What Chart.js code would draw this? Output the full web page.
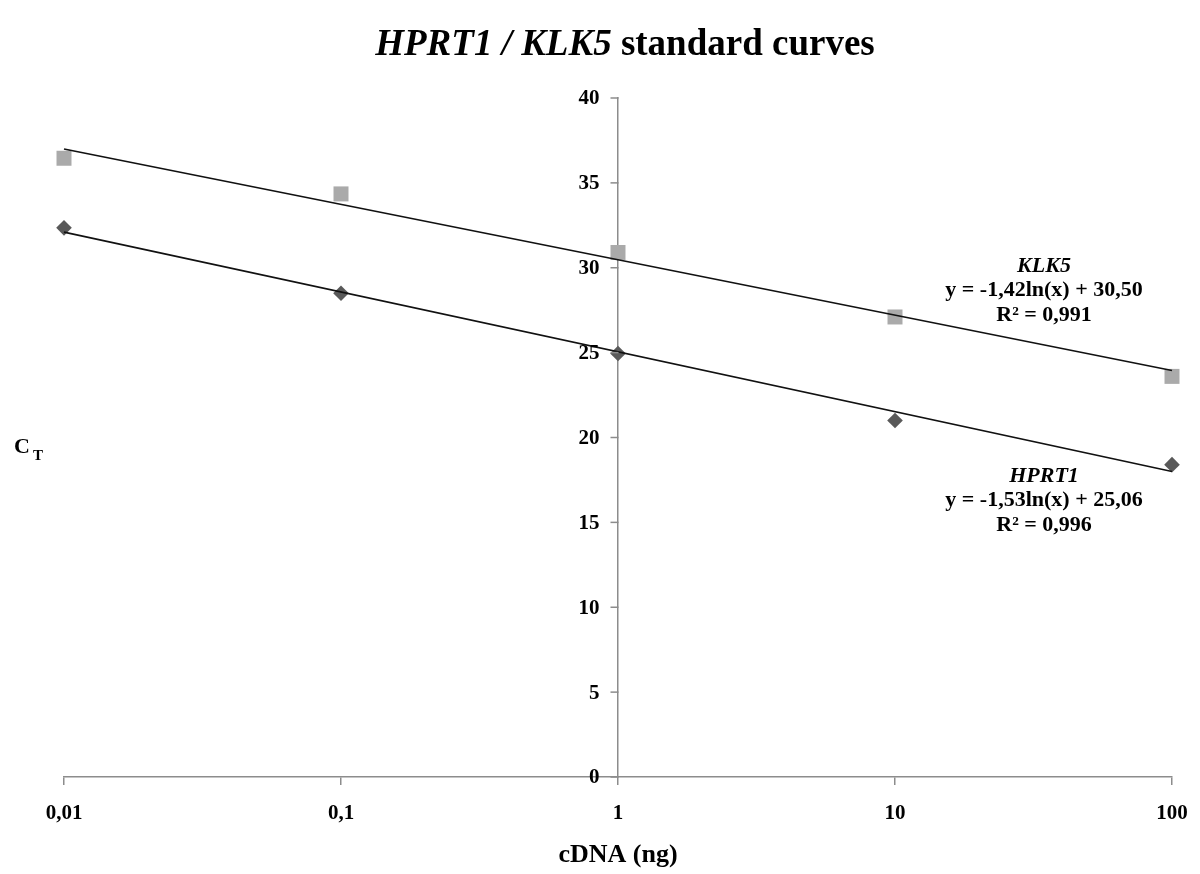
<!DOCTYPE html>
<html>
<head>
<meta charset="utf-8">
<script src="https://cdn.jsdelivr.net/npm/chart.js@4"></script>
<style>
  html, body { margin: 0; padding: 0; background: #fff; }
  #wrap { width: 1200px; height: 874px; position: relative; }
</style>
</head>
<body>
<div id="wrap"><canvas id="stdchart" width="1200" height="874"></canvas></div>
<script>
// cDNA amounts (ng) and measured CT values
const cdnaAmounts = [0.01, 0.1, 1, 10, 100];
const klk5Ct = [36.45, 34.35, 30.9, 27.1, 23.6];
const hprt1Ct = [32.35, 28.5, 24.95, 21.0, 18.4];

// trendline end points (read at x = 0.01 and x = 100)
const trendX = [0.01, 100];
const klk5Trend = [37.0, 23.95];
const hprt1Trend = [32.1, 18.0];

const xTickValues = [0.01, 0.1, 1, 10, 100];
const xTickLabels = ['0,01', '0,1', '1', '10', '100'];
const yTickValues = [0, 5, 10, 15, 20, 25, 30, 35, 40];

const serif = '"Liberation Serif", "Times New Roman", serif';
const axisGray = '#8c8c8c';

function toPoints(xs, ys) {
  return xs.map((x, i) => ({ x: x, y: ys[i] }));
}

// y axis sits at x = 1, so its ticks and labels are drawn here (left of the line)
const yAxisPlugin = {
  id: 'yAxisPlugin',
  afterDraw(chart) {
    const ctx = chart.ctx;
    const xs = chart.scales.x, ys = chart.scales.y;
    const ax = Math.round(xs.getPixelForValue(1)) + 0.5;
    ctx.save();
    ctx.strokeStyle = axisGray;
    ctx.lineWidth = 1.5;
    ctx.fillStyle = '#000';
    ctx.font = 'bold 21px ' + serif;
    ctx.textAlign = 'right';
    ctx.textBaseline = 'middle';
    yTickValues.forEach(v => {
      const py = ys.getPixelForValue(v);
      ctx.beginPath();
      ctx.moveTo(ax - 8, py);
      ctx.lineTo(ax, py);
      ctx.stroke();
      ctx.fillText(String(v), ax - 19, py + 1);
    });
    ctx.restore();
  }
};

// Title, CT label and trendline equations
const textPlugin = {
  id: 'textPlugin',
  afterDraw(chart) {
    const ctx = chart.ctx;
    ctx.save();
    ctx.fillStyle = '#000';
    ctx.textBaseline = 'alphabetic';

    // title with italic gene names
    const parts = [
      { t: 'HPRT1 / KLK5', f: 'italic bold 37px ' + serif },
      { t: ' standard curves', f: 'bold 37px ' + serif }
    ];
    let total = 0;
    parts.forEach(p => { ctx.font = p.f; p.w = ctx.measureText(p.t).width; total += p.w; });
    let x = 625 - total / 2;
    ctx.textAlign = 'left';
    parts.forEach(p => { ctx.font = p.f; ctx.fillText(p.t, x, 55); x += p.w; });

    // y axis title: C with subscript T
    ctx.font = 'bold 22px ' + serif;
    ctx.fillText('C', 14, 453);
    const cw = ctx.measureText('C').width;
    ctx.font = 'bold 15px ' + serif;
    ctx.fillText('T', 17 + cw, 460);

    // trendline equations
    ctx.textAlign = 'center';
    ctx.textBaseline = 'middle';
    const eq = [
      { x: 1044, y: 266, lines: ['KLK5', 'y = -1,42ln(x) + 30,50', 'R² = 0,991'] },
      { x: 1044, y: 476, lines: ['HPRT1', 'y = -1,53ln(x) + 25,06', 'R² = 0,996'] }
    ];
    eq.forEach(e => {
      e.lines.forEach((l, i) => {
        ctx.font = (i === 0 ? 'italic bold ' : 'bold ') + '22px ' + serif;
        ctx.fillText(l, e.x, e.y + i * 24.5);
      });
    });
    ctx.restore();
  }
};

new Chart(document.getElementById('stdchart'), {
  type: 'scatter',
  data: {
    datasets: [
      {
        label: 'KLK5 trend',
        type: 'line',
        data: toPoints(trendX, klk5Trend),
        borderColor: '#111',
        borderWidth: 1.6,
        pointRadius: 0,
        fill: false,
        clip: false
      },
      {
        label: 'HPRT1 trend',
        type: 'line',
        data: toPoints(trendX, hprt1Trend),
        borderColor: '#111',
        borderWidth: 1.6,
        pointRadius: 0,
        fill: false,
        clip: false
      },
      {
        label: 'KLK5',
        data: toPoints(cdnaAmounts, klk5Ct),
        pointStyle: 'rect',
        pointRadius: 10.6,
        backgroundColor: '#aaaaaa',
        borderColor: '#aaaaaa',
        borderWidth: 0,
        clip: false
      },
      {
        label: 'HPRT1',
        data: toPoints(cdnaAmounts, hprt1Ct),
        pointStyle: 'rectRot',
        pointRadius: 7.8,
        backgroundColor: '#595959',
        borderColor: '#595959',
        borderWidth: 0,
        clip: false
      }
    ]
  },
  options: {
    responsive: false,
    animation: false,
    layout: { padding: { left: 64, right: 28, top: 98, bottom: 0 } },
    plugins: {
      legend: { display: false },
      tooltip: { enabled: false },
      title: { display: false }
    },
    scales: {
      x: {
        type: 'logarithmic',
        position: 'bottom',
        min: 0.01,
        max: 100,
        afterBuildTicks: function(axis) {
          axis.ticks = xTickValues.map(v => ({ value: v }));
        },
        afterFit: function(axis) {
          axis.height = 97;
          axis.paddingLeft = 0;
          axis.paddingRight = 0;
        },
        ticks: {
          autoSkip: false,
          maxRotation: 0,
          padding: 16,
          color: '#000',
          font: { family: serif, size: 21, weight: 'bold' },
          callback: function(value) {
            const i = xTickValues.indexOf(value);
            return i >= 0 ? xTickLabels[i] : '';
          }
        },
        grid: { drawOnChartArea: false, color: axisGray, tickLength: 8, lineWidth: 1.5 },
        border: { color: axisGray, width: 1.5 },
        title: {
          display: true,
          text: 'cDNA (ng)',
          color: '#000',
          font: { family: serif, size: 26, weight: 'bold' },
          padding: { top: 4, bottom: 3 }
        }
      },
      y: {
        position: { x: 1 },
        min: 0,
        max: 40,
        ticks: { display: false, stepSize: 5 },
        grid: { display: true, drawOnChartArea: false, drawTicks: false },
        border: { color: axisGray, width: 1.5 }
      }
    }
  },
  plugins: [yAxisPlugin, textPlugin]
});
</script>
</body>
</html>
